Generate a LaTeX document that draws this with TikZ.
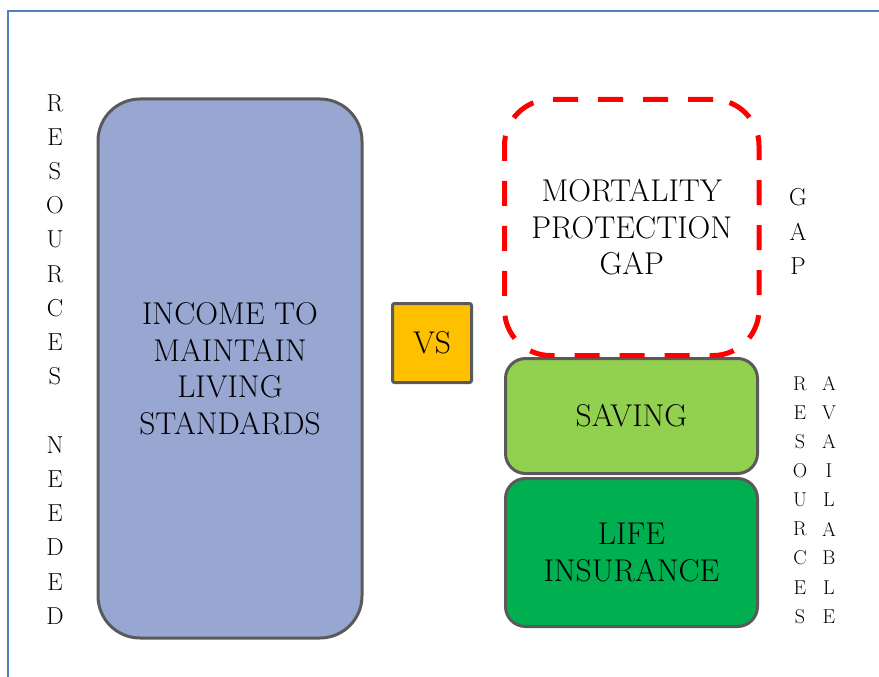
\documentclass[tikz,border=0pt]{standalone}
\definecolor{frameblue}{HTML}{4F81BD}
\definecolor{boxgray}{HTML}{5A5A5A}
\definecolor{needblue}{HTML}{97A7D1}
\definecolor{vsgold}{HTML}{FFC000}
\definecolor{savegreen}{HTML}{92D050}
\definecolor{lifegreen}{HTML}{00B050}
\begin{document}
\begin{tikzpicture}[x=1pt, y=-1pt,
		block/.style={draw=boxgray, line width=3pt, rounded corners=#1, inner sep=0, align=center, font=\fontsize{31.5}{36.5}\selectfont},
		bigletter/.style={inner sep=0, font=\fontsize{24.5}{24.5}\selectfont},
		smallletter/.style={inner sep=0, font=\fontsize{20}{20}\selectfont}]
	\useasboundingbox (0,0) rectangle (879,677);
	\draw[frameblue, line width=1.5pt] (8,677) -- (8,11) -- (879,11);

	\node[block=42, fill=needblue, minimum width=264, minimum height=539] (income) at (230,368.5) {INCOME TO\\MAINTAIN\\LIVING\\STANDARDS};
	\node[block=2, fill=vsgold, minimum width=79, minimum height=79] (vs) at (432,343) {VS};
	\node[block=20, fill=savegreen, minimum width=252, minimum height=115] (saving) at (631.5,416) {SAVING};
	\node[block=20, fill=lifegreen, minimum width=252, minimum height=148] (life) at (631.5,552.5) {LIFE\\INSURANCE};
	\node[block=46, draw=red, line width=5pt, dash pattern=on 25pt off 20pt, minimum width=254.5, minimum height=256] (gap) at (631.75,227.5) {MORTALITY\\PROTECTION\\GAP};

	% vertical captions
	\foreach \i/\l in {0/R,1/E,2/S,3/O,4/U,5/R,6/C,7/E,8/S,10/N,11/E,12/E,13/D,14/E,15/D}
		{
			\node[bigletter] (need\i) at (55,{103+\i*34.2}) {\l};
		}
	\foreach \i/\l in {0/G,1/A,2/P}
		{
			\node[bigletter] (gapl\i) at (798,{197+\i*34.5}) {\l};
		}
	\foreach \i/\l/\m in {0/R/A,1/E/V,2/S/A,3/O/I,4/U/L,5/R/A,6/C/B,7/E/L,8/S/E}
		{
			\node[smallletter] (res\i) at (800,{383.5+\i*29.1}) {\l};
			\node[smallletter] (avail\i) at (829,{383.5+\i*29.1}) {\m};
		}
\end{tikzpicture}
\end{document}
